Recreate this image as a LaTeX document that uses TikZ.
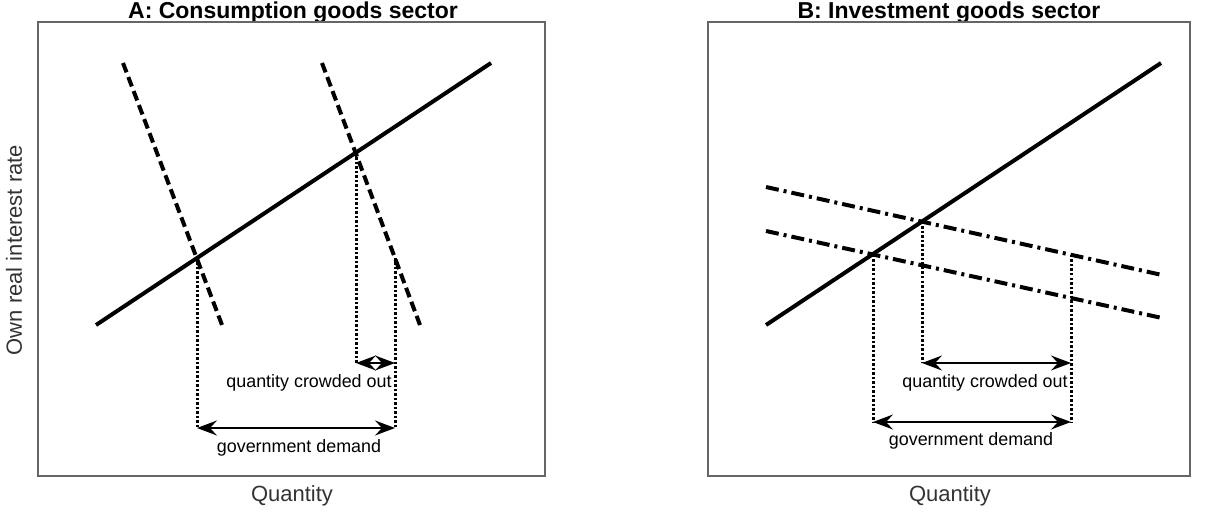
\documentclass[tikz,border=0pt]{standalone}
\usepackage{fontspec}
\setmainfont{Liberation Sans}
\usetikzlibrary{arrows.meta}

\tikzset{
  frame/.style={draw=black!60, line width=1.2pt},
  supply/.style={line width=4pt},
  demandA/.style={line width=4pt, dash pattern=on 10pt off 5pt},
  demandB/.style={line width=4pt, dash pattern=on 13pt off 5pt on 3pt off 5pt},
  guide/.style={line width=3pt, dash pattern=on 2.5pt off 2pt},
  span/.style={line width=1.4pt, {Stealth[length=20pt,width=15pt,inset=7pt]}-{Stealth[length=20pt,width=15pt,inset=7pt]}},
  lbl/.style={inner sep=0pt, font=\fontsize{17.9}{20}\selectfont},
  axlbl/.style={inner sep=0pt, text=black!80, font=\fontsize{22}{24}\selectfont},
  ttl/.style={inner sep=0pt, anchor=base, font=\fontsize{23}{25}\selectfont\bfseries}
}

\begin{document}
\begin{tikzpicture}[x=1pt, y=-1pt]
\useasboundingbox (0,0) rectangle (1220,521);

% panel A
\node[ttl] (titleA) at (293,18.5) {A: Consumption goods sector};
\draw[frame] (38,22) rectangle (545,476);
\node[axlbl, rotate=90] (ylab) at (14,250) {Own real interest rate};
\node[axlbl] (qA) at (292,496) {Quantity};

\coordinate (sA1) at (96,325);
\coordinate (sA2) at (491,63);
\coordinate (dA1) at (123,63);
\coordinate (dA2) at (222,325);
\coordinate (dA3) at (322,63);
\coordinate (dA4) at (420,325);
\draw[supply] (sA1) -- (sA2);
\draw[demandA] (dA1) -- (dA2);
\draw[demandA] (dA3) -- (dA4);

\coordinate (eA1) at (197,258);
\coordinate (eA2) at (356,153);
\coordinate (eA3) at (395,258);
\coordinate (bA1) at (197,428);
\coordinate (bA2) at (356,363);
\coordinate (bA3) at (395,363);
\coordinate (bA4) at (395,428);
\draw[guide] (eA1) -- (bA1);
\draw[guide] (eA2) -- (bA2);
\draw[guide] (eA3) -- (bA4);
\draw[span] (bA2) -- (bA3);
\draw[span] (bA1) -- (bA4);
\node[lbl] (crowdA) at (309,383) {quantity crowded out};
\node[lbl] (govA) at (299,448) {government demand};

% panel B
\node[ttl] (titleB) at (949,18.5) {B: Investment goods sector};
\draw[frame] (708,22) rectangle (1190,476);
\node[axlbl] (qB) at (950,496) {Quantity};

\coordinate (sB1) at (766,325);
\coordinate (sB2) at (1161,63);
\coordinate (dB1) at (766,187);
\coordinate (dB2) at (1162,275);
\coordinate (dB3) at (766,231);
\coordinate (dB4) at (1162,318);
\draw[supply] (sB1) -- (sB2);
\draw[demandB] (dB1) -- (dB2);
\draw[demandB] (dB3) -- (dB4);

\coordinate (eB1) at (873,255);
\coordinate (eB2) at (922,222);
\coordinate (eB3) at (1071,255);
\coordinate (bB1) at (873,422);
\coordinate (bB2) at (922,363);
\coordinate (bB3) at (1071,363);
\coordinate (bB4) at (1071,422);
\draw[guide] (eB1) -- (bB1);
\draw[guide] (eB2) -- (bB2);
\draw[guide] (eB3) -- (bB4);
\draw[span] (bB2) -- (bB3);
\draw[span] (bB1) -- (bB4);
\node[lbl] (crowdB) at (985,383) {quantity crowded out};
\node[lbl] (govB) at (971,441) {government demand};

\end{tikzpicture}
\end{document}
